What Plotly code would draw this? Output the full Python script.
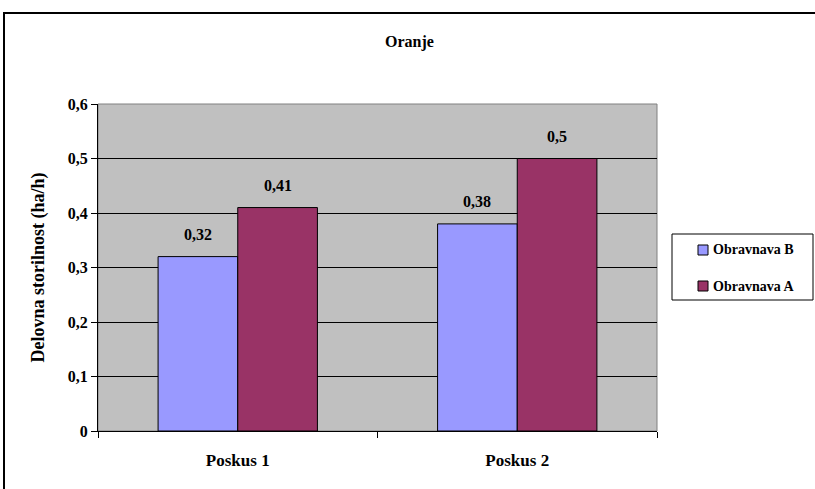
import plotly.graph_objects as go

categories = ["Poskus 1", "Poskus 2"]
obravnava_b = [0.32, 0.38]
obravnava_a = [0.41, 0.5]
series_names = ["Obravnava B", "Obravnava A"]
series_colors = ["#9999FF", "#993366"]
y_ticks = [0, 0.1, 0.2, 0.3, 0.4, 0.5, 0.6]
y_tick_labels = ["0", "0,1", "0,2", "0,3", "0,4", "0,5", "0,6"]

FONT = "Liberation Serif"

W, H = 815, 489
L, R, T, B = 98, 158, 104, 58
pw, ph = W - L - R, H - T - B
BARGAP = 0.43


def px_to_paper_x(x):
    return (x - L) / pw


def px_to_paper_y(y):
    return (H - B - y) / ph


def bold(s):
    return "<b>%s</b>" % s


def comma(v):
    return str(v).replace(".", ",")


fig = go.Figure()
for name, color, values in zip(series_names, series_colors, [obravnava_b, obravnava_a]):
    fig.add_trace(go.Bar(
        x=categories, y=values, name=name,
        marker=dict(color=color, line=dict(color="black", width=1)),
        showlegend=False,
    ))

# value labels above each bar
bar_w = pw / len(categories) * (1 - BARGAP) / 2
for i, values in enumerate([obravnava_b, obravnava_a]):
    shift = (i - 0.5) * bar_w
    for cat, v in zip(categories, values):
        fig.add_annotation(
            x=cat, y=v, xref="x", yref="y", text=bold(comma(v)),
            showarrow=False, xshift=shift, yshift=22,
            font=dict(family=FONT, size=16, color="black"),
        )

fig.update_layout(
    width=W, height=H,
    margin=dict(l=L, r=R, t=T, b=B),
    paper_bgcolor="white",
    plot_bgcolor="#C0C0C0",
    barmode="group",
    bargap=BARGAP,
    bargroupgap=0,
    font=dict(family=FONT, size=16, color="black"),
    showlegend=False,
)

# chart title
fig.add_annotation(
    x=px_to_paper_x(409), y=px_to_paper_y(42), xref="paper", yref="paper",
    text=bold("Oranje"), showarrow=False, xanchor="center", yanchor="middle",
    font=dict(family=FONT, size=16, color="black"),
)

fig.update_yaxes(
    range=[0, 0.6],
    tickvals=y_ticks, ticktext=[bold(t) for t in y_tick_labels],
    showgrid=True, gridcolor="black", gridwidth=1,
    showline=True, linecolor="black", linewidth=1,
    ticks="outside", ticklen=6, tickcolor="black",
    zeroline=False,
    title=dict(text=bold("Delovna storilnost (ha/h)"), standoff=18,
               font=dict(family=FONT, size=18, color="black")),
    tickfont=dict(family=FONT, size=16, color="black"),
)
fig.update_xaxes(
    showline=True, linecolor="black", linewidth=1,
    ticks="outside", ticklen=6, tickcolor="black", tickson="boundaries",
    tickvals=categories, ticktext=[bold(c) for c in categories],
    tickfont=dict(family=FONT, size=17, color="black"),
    ticklabelstandoff=14,
    showgrid=False,
)

# gray frame around the plot area
fig.add_shape(type="rect", xref="paper", yref="paper", x0=0, x1=1, y0=0, y1=1,
              line=dict(color="#808080", width=1), layer="below")

# legend box with swatches and names
lg_x0, lg_x1, lg_y0, lg_y1 = 672, 813, 234, 300
fig.add_shape(type="rect", xref="paper", yref="paper",
              x0=px_to_paper_x(lg_x0), x1=px_to_paper_x(lg_x1),
              y0=px_to_paper_y(lg_y1), y1=px_to_paper_y(lg_y0),
              line=dict(color="black", width=1), fillcolor="white")
row_y = [250, 286]
for name, color, ry in zip(series_names, series_colors, row_y):
    fig.add_shape(type="rect", xref="paper", yref="paper",
                  x0=px_to_paper_x(698), x1=px_to_paper_x(708),
                  y0=px_to_paper_y(ry + 5), y1=px_to_paper_y(ry - 5),
                  line=dict(color="black", width=1), fillcolor=color)
    fig.add_annotation(
        x=px_to_paper_x(711), y=px_to_paper_y(ry), xref="paper", yref="paper",
        text=bold(name), showarrow=False, xanchor="left", yanchor="middle",
        font=dict(family=FONT, size=14, color="black"),
    )

# outer chart border
fig.add_shape(type="rect", xref="paper", yref="paper",
              x0=px_to_paper_x(4), x1=px_to_paper_x(840),
              y0=px_to_paper_y(510), y1=px_to_paper_y(13),
              line=dict(color="black", width=2))

fig.write_html("out.html")
